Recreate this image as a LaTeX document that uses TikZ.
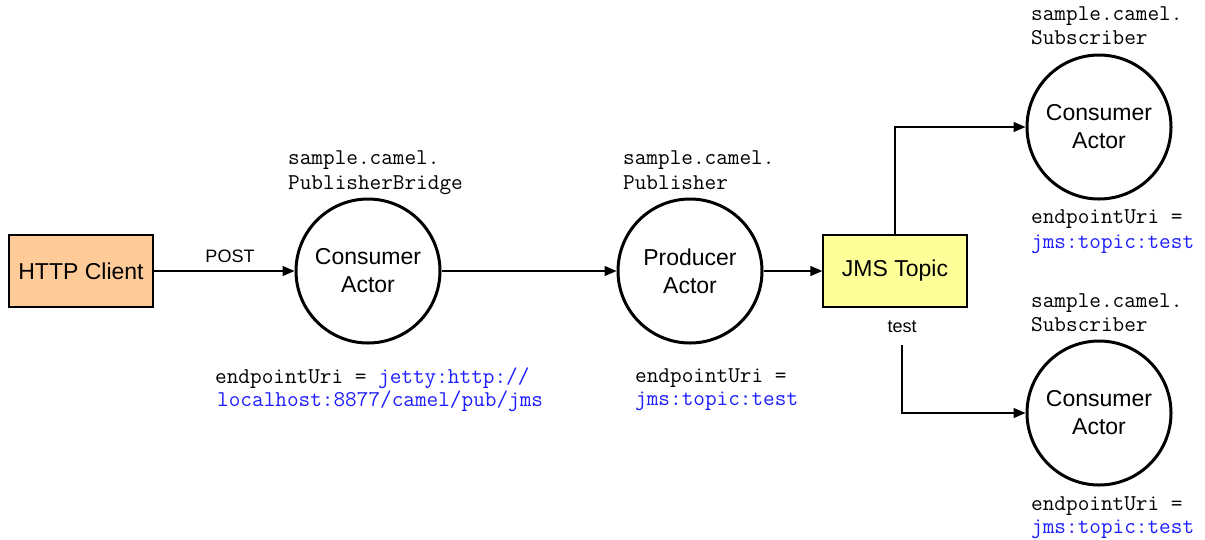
\documentclass[tikz,border=0pt]{standalone}
\usepackage{fontspec}
\setsansfont{Liberation Sans}
\usetikzlibrary{arrows.meta}
\definecolor{httpfill}{RGB}{255,204,153}
\definecolor{jmsfill}{RGB}{255,255,153}
\definecolor{uriblue}{RGB}{30,30,255}
\tikzset{
 actor/.style={circle, draw, line width=3pt, minimum size=144pt, inner sep=0pt, align=center, font=\sffamily\fontsize{23}{28}\selectfont},
 box/.style={draw, line width=1.3pt, minimum width=144pt, minimum height=72pt, inner sep=0pt, font=\sffamily\fontsize{23}{28}\selectfont},
 code/.style={anchor=base west, inner sep=0pt, font=\ttfamily\fontsize{22.6}{24}\selectfont},
 uri/.style={code, text=uriblue},
 lbl/.style={inner sep=0pt, font=\sffamily\fontsize{18}{20}\selectfont},
 arr/.style={-{Triangle[length=12pt,width=10pt]}, line width=1.3pt}
}
\begin{document}
\begin{tikzpicture}[x=1pt,y=-1pt]
\useasboundingbox (0,0) rectangle (1205,539);
% nodes
\node[box, fill=httpfill] (http) at (81,271) {HTTP Client};
\node[actor] (c1) at (368,271) {Consumer\\Actor};
\node[actor] (c2) at (690,271) {Producer\\Actor};
\node[box, fill=jmsfill] (jms) at (895,271) {JMS Topic};
\node[actor] (c3) at (1099,127) {Consumer\\Actor};
\node[actor] (c4) at (1099,413) {Consumer\\Actor};
% labels
\node[lbl] (post) at (230,256) {POST};
\node[lbl] (test) at (902,327) {test};
\coordinate (tb) at (902,345);
% code labels
\node[code] (n1a) at (288,164) {sample.camel.};
\node[code] (n1b) at (288,189) {PublisherBridge};
\node[code] (u1a) at (215,383) {endpointUri = \textcolor{uriblue}{jetty:http://}};
\node[uri] (u1b) at (217,406) {localhost:8877/camel/pub/jms};
\node[code] (n2a) at (623,164) {sample.camel.};
\node[code] (n2b) at (623,189) {Publisher};
\node[code] (u2a) at (635,382) {endpointUri =};
\node[uri] (u2b) at (635,405) {jms:topic:test};
\node[code] (n3a) at (1031,20) {sample.camel.};
\node[code] (n3b) at (1031,44) {Subscriber};
\node[code] (u3a) at (1031,223) {endpointUri =};
\node[uri] (u3b) at (1031,248) {jms:topic:test};
\node[code] (n4a) at (1031,307) {sample.camel.};
\node[code] (n4b) at (1031,331) {Subscriber};
\node[code] (u4a) at (1031,510) {endpointUri =};
\node[uri] (u4b) at (1031,533) {jms:topic:test};
% connectors
\draw[arr] (http) -- (c1);
\draw[arr] (c1) -- (c2);
\draw[arr] (c2) -- (jms);
\draw[arr] (jms.north) |- (c3);
\draw[arr] (tb) |- (c4);
\end{tikzpicture}
\end{document}
